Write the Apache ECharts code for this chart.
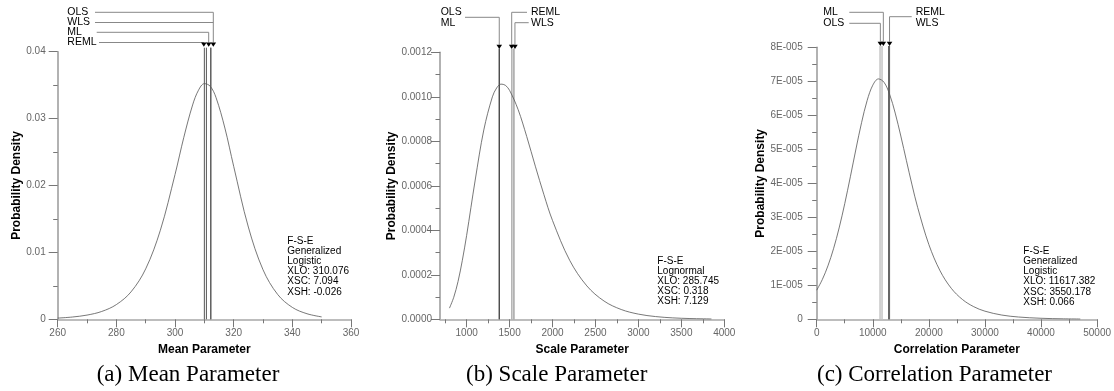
<!DOCTYPE html>
<html>
<head>
<meta charset="utf-8">
<script src="https://cdn.jsdelivr.net/npm/echarts@6/dist/echarts.min.js"></script>
<style>
html, body { margin: 0; padding: 0; background: #fff; }
#chart { width: 1114px; height: 391px; }
</style>
</head>
<body>
<div id="chart"></div>
<script>
// (a) mean parameter, generalized logistic density
const meanX = [260, 265, 270, 275, 280, 285, 290, 295, 300, 303, 306, 308, 310, 312, 314, 317, 320, 325, 330, 335, 340, 345, 350]
const meanPdf = [0.00018, 0.00034, 0.00063, 0.00117, 0.00220, 0.00410, 0.00754, 0.01331, 0.02164, 0.02720, 0.03204, 0.03424, 0.03523, 0.03484, 0.03312, 0.02859, 0.02287, 0.01379, 0.00741, 0.00371, 0.00178, 0.00083, 0.00036]
const meanNames = ['REML', 'ML', 'OLS', 'WLS']
const meanEst = [310.0, 310.7, 312.2, 312.2]
const meanTicks = [260, 280, 300, 320, 340, 360]
const meanMinor = [270, 290, 310, 330, 350]
const meanInfo = ['F-S-E', 'Generalized', 'Logistic', 'XLO: 310.076', 'XSC: 7.094', 'XSH: -0.026']

// (b) scale parameter, lognormal density
const scaleX = [800, 850, 900, 950, 1000, 1100, 1200, 1300, 1350, 1400, 1450, 1500, 1600, 1700, 1800, 1900, 2000, 2200, 2400, 2600, 2800, 3000, 3200, 3400, 3600, 3850]
const scalePdf = [0.0000502, 0.0000988, 0.000170, 0.000265, 0.000377, 0.000626, 0.000851, 0.001000, 0.001040, 0.001057, 0.001052, 0.001029, 0.000942, 0.000821, 0.000688, 0.000560, 0.000444, 0.000265, 0.000150, 0.0000821, 0.0000440, 0.0000233, 0.0000123, 0.0000064, 0.0000034, 0.0000015]
const scaleNames = ['OLS', 'ML', 'REML', 'WLS']
const scaleEst = [1380, 1380, 1527, 1551]
const scaleTicks = [1000, 1500, 2000, 2500, 3000, 3500, 4000]
const scaleMinor = [750, 1250, 1750, 2250, 2750, 3250, 3750]
const scaleInfo = ['F-S-E', 'Lognormal', 'XLO: 285.745', 'XSC: 0.318', 'XSH: 7.129']

// (c) correlation parameter, generalized logistic density
const corrX = [0, 1000, 2000, 3000, 4000, 5000, 6000, 7000, 8000, 9000, 10000, 11000, 12000, 13000, 14000, 15000, 16000, 17000, 18000, 20000, 22000, 24000, 26000, 28000, 30000, 33000, 36000, 40000, 44000, 47000]
const corrPdf = [8.56e-6, 1.169e-5, 1.571e-5, 2.075e-5, 2.687e-5, 3.400e-5, 4.191e-5, 5.008e-5, 5.785e-5, 6.438e-5, 6.885e-5, 7.070e-5, 6.972e-5, 6.618e-5, 6.065e-5, 5.390e-5, 4.666e-5, 3.952e-5, 3.291e-5, 2.199e-5, 1.425e-5, 9.11e-6, 5.81e-6, 3.71e-6, 2.39e-6, 1.25e-6, 6.7e-7, 3.0e-7, 1.4e-7, 8e-8]
const corrNames = ['ML', 'OLS', 'REML', 'WLS']
const corrEst = [11650, 11300, 12900, 12900]
const corrTicks = [0, 10000, 20000, 30000, 40000, 50000]
const corrMinor = [5000, 15000, 25000, 35000, 45000]
const corrInfo = ['F-S-E', 'Generalized', 'Logistic', 'XLO: 11617.382', 'XSC: 3550.178', 'XSH: 0.066']

const FONT = 'Liberation Sans, Arial, sans-serif'

const panels = [
  {
    grid: { left: 57.7, top: 51.7, width: 293.3, height: 267.6 },
    xMin: 260, xMax: 360, ticks: meanTicks, minor: meanMinor,
    yMax: 0.04, yStep: 0.01, yFmt: v => (v === 0 ? '0' : String(+v.toFixed(2))),
    yMargin: 12, yNameGap: 33, xName: 'Mean Parameter',
    curveX: meanX, curveY: meanPdf, names: meanNames, est: meanEst,
    lineTop: 0.0406, lineColors: ['#555', '#555', '#555', '#555'], lineWidths: [1, 1, 1, 1],
    caption: '(a) Mean Parameter', captionX: 188,
    info: meanInfo, infoX: 287.3, infoY: 235.7,
    leaders: [
      { ids: [2, 3], dx: 2.5, textX: 67.3, textYs: [12.3, 22.5], rows: [[95, 12.3], [95, 22.5]], triTop: 42.5 },
      { ids: [1], dx: 2.3, textX: 67.3, textYs: [32.3], rows: [[96.7, 32.3]], triTop: 42.5 },
      { ids: [0], dx: -0.5, textX: 67.3, textYs: [42.3], rows: [[99, 42.5]], triTop: 42.5 }
    ]
  },
  {
    grid: { left: 440, top: 52.3, width: 284.3, height: 267 },
    xMin: 690, xMax: 4000, ticks: scaleTicks, minor: scaleMinor,
    yMax: 0.0012, yStep: 0.0002, yFmt: v => v.toFixed(4),
    yMargin: 8, yNameGap: 42, xName: 'Scale Parameter',
    curveX: scaleX, curveY: scalePdf, names: scaleNames, est: scaleEst,
    lineTop: 0.001217, lineColors: ['#444', '#444', '#888', '#777'], lineWidths: [1, 1, 1, 1],
    caption: '(b) Scale Parameter', captionX: 556.7,
    info: scaleInfo, infoX: 657.3, infoY: 255.7,
    leaders: [
      { ids: [0, 1], dx: 0, textX: 440.7, textYs: [12.3, 23.3], rows: [[465, 17.3]], triTop: 44.8 },
      { ids: [2], dx: -0.2, textX: 531, textYs: [12.3], rows: [[527, 12.3]], triTop: 44.8 },
      { ids: [3], dx: 1, textX: 531, textYs: [23.3], rows: [[528.7, 22.7]], triTop: 44.8 }
    ]
  },
  {
    grid: { left: 816.7, top: 47.3, width: 281.6, height: 272 },
    xMin: 0, xMax: 50000, ticks: corrTicks, minor: corrMinor,
    yMax: 8e-5, yStep: 1e-5, yFmt: v => (v === 0 ? '0' : Math.round(v * 1e5) + 'E-005'),
    yMargin: 14, yNameGap: 41, xName: 'Correlation Parameter',
    curveX: corrX, curveY: corrPdf, names: corrNames, est: corrEst,
    lineTop: 8.04e-5, lineColors: ['#c4c4c4', '#c4c4c4', '#666', '#666'], lineWidths: [1.5, 1.5, 2, 2],
    caption: '(c) Correlation Parameter', captionX: 934.5,
    info: corrInfo, infoX: 1023.3, infoY: 246,
    leaders: [
      { ids: [0], dx: 1.3, textX: 823.3, textYs: [12.3], rows: [[849.3, 12.3]], triTop: 41.7 },
      { ids: [1], dx: 0.3, textX: 823.3, textYs: [23.3], rows: [[849.3, 23.3]], triTop: 41.7 },
      { ids: [2, 3], dx: 0.5, textX: 915.7, textYs: [12.3, 23.3], rows: [[911.7, 16.7]], triTop: 41.7 }
    ]
  }
]

const tickStyle = { color: '#777', width: 1 }
const labelStyle = { fontSize: 10, color: '#666', fontFamily: FONT }
const nameStyle = { fontSize: 12, fontWeight: 'bold', color: '#000', fontFamily: FONT }

const grid = []
const xAxis = []
const yAxis = []
const series = []

panels.forEach((p, i) => {
  grid.push(p.grid)
  xAxis.push({
    gridIndex: i, type: 'value', min: p.xMin, max: p.xMax, position: 'bottom',
    axisLine: { lineStyle: { color: '#a8a8a8', width: 1.5 } },
    axisTick: { customValues: p.ticks, length: 8, lineStyle: tickStyle },
    axisLabel: { customValues: p.ticks, margin: 9, formatter: v => String(v), ...labelStyle },
    splitLine: { show: false },
    name: p.xName, nameLocation: 'middle', nameGap: 24, nameTextStyle: nameStyle
  })
  xAxis.push({
    gridIndex: i, type: 'value', min: p.xMin, max: p.xMax, position: 'bottom',
    axisLine: { show: false },
    axisTick: { customValues: p.minor, length: 4, lineStyle: tickStyle },
    axisLabel: { show: false },
    splitLine: { show: false }
  })
  yAxis.push({
    gridIndex: i, type: 'value', min: 0, max: p.yMax, interval: p.yStep,
    axisLine: { show: true, lineStyle: { color: '#999', width: 1.5 } },
    axisTick: { show: true, length: 9, lineStyle: tickStyle },
    minorTick: { show: true, splitNumber: 2, length: 4.5, lineStyle: tickStyle },
    axisLabel: { formatter: p.yFmt, margin: p.yMargin, ...labelStyle },
    splitLine: { show: false },
    name: 'Probability Density', nameLocation: 'middle', nameGap: p.yNameGap, nameRotate: 90,
    nameTextStyle: nameStyle
  })
  // estimate lines
  p.est.forEach((v, k) => {
    series.push({
      type: 'line', xAxisIndex: i * 2, yAxisIndex: i, clip: false, symbol: 'none', silent: true,
      lineStyle: { color: p.lineColors[k], width: p.lineWidths[k] },
      data: [[v, 0], [v, p.lineTop]]
    })
  })
  series.push({
    type: 'line', xAxisIndex: i * 2, yAxisIndex: i, symbol: 'none', smooth: 0.35,
    lineStyle: { color: '#555', width: 0.8 },
    data: p.curveX.map((x, k) => [x, p.curveY[k]])
  })
})

const chart = echarts.init(document.getElementById('chart'))
chart.setOption({ animation: false, grid, xAxis, yAxis, series })

// leader lines, arrows and text
const graphic = []
panels.forEach((p, i) => {
  p.leaders.forEach(ld => {
    const cx = chart.convertToPixel({ gridIndex: i }, [p.est[ld.ids[0]], 0])[0] + ld.dx
    ld.ids.forEach((id, k) => {
      graphic.push({
        type: 'text', left: ld.textX, top: ld.textYs[k] - 6,
        style: { text: p.names[id], font: '10.5px ' + FONT, fill: '#000' }
      })
    })
    let topY = ld.triTop
    ld.rows.forEach(([x0, y]) => {
      graphic.push({ type: 'polyline', shape: { points: [[x0, y], [cx, y]] }, style: { stroke: '#888', lineWidth: 1 } })
      topY = Math.min(topY, y)
    })
    if (topY < ld.triTop - 1) {
      graphic.push({ type: 'polyline', shape: { points: [[cx, topY], [cx, ld.triTop]] }, style: { stroke: '#888', lineWidth: 1 } })
    }
    graphic.push({
      type: 'polygon',
      shape: { points: [[cx - 2.8, ld.triTop], [cx + 2.8, ld.triTop], [cx, ld.triTop + 4.2]] },
      style: { fill: '#000' }
    })
  })
  graphic.push({
    type: 'text', left: p.infoX, top: p.infoY,
    style: { text: p.info.join('\n'), font: '10px ' + FONT, lineHeight: 10.2, fill: '#000' }
  })
  graphic.push({
    type: 'text', x: p.captionX, y: 375,
    style: { text: p.caption, font: '23px Liberation Serif, Times New Roman, serif', fill: '#000', align: 'center', verticalAlign: 'middle' }
  })
})
chart.setOption({ graphic })
</script>
</body>
</html>
